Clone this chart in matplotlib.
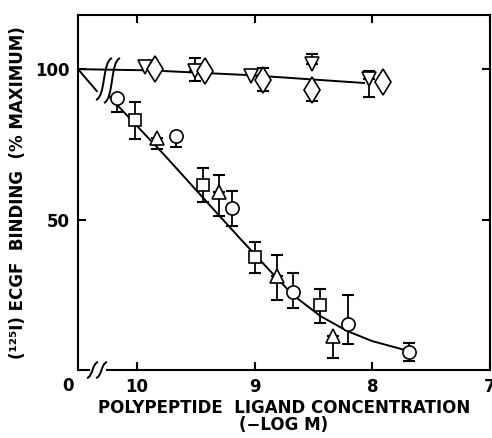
import numpy as np
import matplotlib.pyplot as plt
from matplotlib.path import Path
from matplotlib.patches import PathPatch

plt.rcParams.update({
    "font.family": "DejaVu Sans",
    "font.weight": "bold",
    "font.size": 12,
    "axes.linewidth": 1.5})

# ---- data, None = no error bar on that side ----
# displacement by ECGF-like ligands (lower curve)
circ_x = [10.17, 9.67, 9.19, 8.67, 8.21, 7.69]
circ_y = [90.4, 77.8, 54.0, 25.8, 15.2, 6.0]
circ_lo = [85.7, 74.0, 48.0, 20.5, 8.6, 3.0]
circ_hi = [None, None, 59.6, 32.1, 24.8, 8.9]

sq_x = [10.02, 9.44, 9.00, 8.44]
sq_y = [83.1, 61.6, 37.4, 21.5]
sq_lo = [76.8, 56.0, 32.1, 15.6]
sq_hi = [89.0, 67.2, 42.7, 26.8]

tri_x = [9.83, 9.30, 8.81, 8.33]
tri_y = [77.1, 59.3, 31.1, 11.3]
tri_lo = [73.5, 51.3, 23.2, 4.0]
tri_hi = [None, 64.9, 38.1, None]

# no displacement (upper line)
tdn_x = [9.93, 9.51, 9.03, 8.51, 8.03]
tdn_y = [100.6, 99.3, 97.8, 101.6, 96.7]
tdn_lo = [None, 96.0, None, None, 90.7]
tdn_hi = [None, 103.6, None, 105.0, 99.3]

dia_x = [9.85, 9.42, 8.93, 8.51, 7.91]
dia_y = [100.0, 99.3, 96.3, 93.0, 95.7]
dia_lo = [None, None, 92.7, 89.4, None]
dia_hi = [None, None, 100.3, None, None]

# fitted curves
fit_hi_x = [10.5, 9.89, 9.04, 8.07]
fit_hi_y = [100, 99.6, 98.0, 95.4]
fit_lo_x0 = [10.5, 10.34]
fit_lo_y0 = [100, 92.7]
fit_lo_x = [10.23, 9.76, 9.30, 9.13, 8.96, 8.81, 8.67, 8.44, 8.21, 8.0, 7.69]
fit_lo_y = [90.7, 71.2, 51.3, 44.0, 36.8, 30.5, 24.8, 17.9, 12.9, 9.6, 6.3]

xticks = [10, 9, 8, 7]
xticklabels = ["10", "9", "8", "7"]
yticks = [50, 100]

fig = plt.figure(figsize=(4.92, 4.38), dpi=100)
ax = fig.add_axes([78/492, 68/438, 412/492, 355/438])

ax.plot(fit_hi_x, fit_hi_y, color="k", lw=1.4, zorder=1)
ax.plot(fit_lo_x0, fit_lo_y0, color="k", lw=1.4, zorder=1)
ax.plot(fit_lo_x, fit_lo_y, color="k", lw=1.4, zorder=1)

def series(x, y, lo, hi, marker, ms):
    x = np.array(x, dtype=float)
    y = np.array(y, dtype=float)
    lo = np.array(lo, dtype=float)
    hi = np.array(hi, dtype=float)
    # one-sided bars, only where a value was read
    m = ~np.isnan(lo)
    ax.errorbar(x[m], y[m], yerr=[y[m] - lo[m], np.zeros(m.sum())], fmt="none",
                ecolor="k", elinewidth=1.3, capsize=4, capthick=1.5, zorder=2)
    m = ~np.isnan(hi)
    ax.errorbar(x[m], y[m], yerr=[np.zeros(m.sum()), hi[m] - y[m]], fmt="none",
                ecolor="k", elinewidth=1.3, capsize=4, capthick=1.5, zorder=2)
    ax.plot(x, y, marker, ms=ms, mfc="w", mec="k", mew=1.2, zorder=3)

series(circ_x, circ_y, circ_lo, circ_hi, "o", 9.5)
series(sq_x, sq_y, sq_lo, sq_hi, "s", 9)
series(tri_x, tri_y, tri_lo, tri_hi, "^", 10)
series(tdn_x, tdn_y, tdn_lo, tdn_hi, "v", 10)
series(dia_x, dia_y, dia_lo, dia_hi, "d", 13)

ax.set_xlim(10.5, 7)
ax.set_ylim(0, 118)
ax.set_xticks(xticks)
ax.set_xticklabels(xticklabels)
ax.set_yticks(yticks)
ax.tick_params(direction="in", length=6, width=1.5, top=True, right=True,
               labelsize=12, pad=6)
ax.text(-10/412, -0.02, "0", transform=ax.transAxes, ha="center", va="top",
        fontsize=12, fontweight="bold")

# broken bottom axis
ax.spines["bottom"].set_visible(False)
W, H = 412.0, 355.0
def px(x, y):
    return ((x - 78) / W, (370 - y) / H)
for seg in [((78, 370), (90, 370)), ((106, 370), (490, 370))]:
    (a, b), (c, d) = px(*seg[0]), px(*seg[1])
    ax.plot([a, c], [b, d], color="k", lw=1.5, transform=ax.transAxes,
            clip_on=False, solid_capstyle="butt")

def squiggle(p0, p3, k):
    x0, y0 = p0
    x3, y3 = p3
    p1 = (x0 + k, y0 - (y0 - y3) * 0.1)
    p2 = (x3 - k, y3 + (y0 - y3) * 0.1)
    verts = [px(*p0), px(*p1), px(*p2), px(*p3)]
    path = Path(verts, [Path.MOVETO, Path.CURVE4, Path.CURVE4, Path.CURVE4])
    ax.add_patch(PathPatch(path, fill=False, lw=1.4, ec="k",
                           transform=ax.transAxes, clip_on=False, zorder=4))

squiggle((96, 100), (112, 58), 10)
squiggle((104, 103), (120, 58), 10)
squiggle((87, 378), (98, 362), 6)
squiggle((96, 378), (107, 362), 6)

ax.set_xlabel("POLYPEPTIDE  LIGAND CONCENTRATION\n(\u2212LOG M)",
              fontsize=12, fontweight="bold", labelpad=2, linespacing=0.95)
ax.set_ylabel("(\u00b9\u00b2\u2075I) ECGF  BINDING  (% MAXIMUM)",
              fontsize=12, fontweight="bold", labelpad=6)

fig.savefig("out.png", dpi=100)
